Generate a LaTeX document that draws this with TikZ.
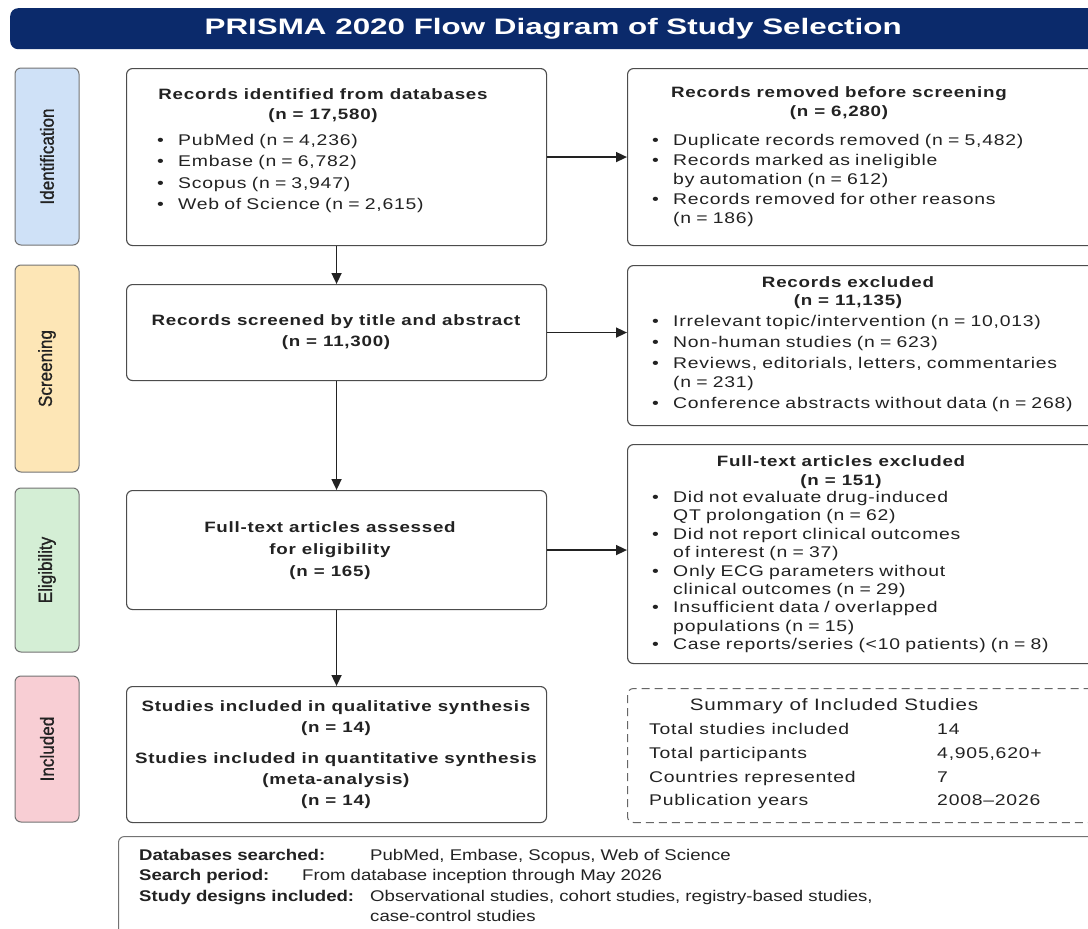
\documentclass[tikz,border=0pt]{standalone}
\usepackage{fontspec}
\setmainfont{Liberation Sans}[FakeStretch=1.25,LetterSpace=5]
\newfontfamily\titlef{Liberation Sans}[FakeStretch=1.4]
\newfontfamily\notef{Liberation Sans}[FakeStretch=1.2]
\newfontfamily\sidef{Liberation Sans}[FakeStretch=0.9,FakeBold=1]
\usetikzlibrary{arrows.meta}
\definecolor{navy}{HTML}{0B2A6B}
\definecolor{idblue}{HTML}{CFE1F7}
\definecolor{scryel}{HTML}{FDE6B6}
\definecolor{eliggrn}{HTML}{D4EED5}
\definecolor{inclpink}{HTML}{F8CED4}
\definecolor{ink}{HTML}{222222}
\newcommand{\bitem}[1]{\hangindent=24pt\hangafter=1\noindent\hbox to 24pt{\hskip3pt\textbullet\hss}#1\par}
\tikzset{
  sidebox/.style={draw=black!55, line width=1pt, rounded corners=6pt, rotate=90,
     text=ink, font=\sidef\fontsize{19}{21}\selectfont, inner sep=0pt},
  flowbox/.style={draw=black!70, line width=1.1pt, rounded corners=6pt, fill=white,
     anchor=north west, inner sep=0pt},
  txt/.style={inner sep=0pt, text=ink},
  hd/.style={txt, anchor=north, align=center},
  lst/.style={txt, anchor=north west, text width=440pt, align=left},
  arr/.style={-{Triangle[length=11pt,width=10pt]}, line width=1.6pt, draw=ink}
}
\begin{document}
\begin{tikzpicture}[x=1pt,y=-1pt]
\useasboundingbox[fill=white] (0,0) rectangle (1088,929);
\clip (0,0) rectangle (1088,929);

% title
\node[fill=navy, rounded corners=8pt, minimum width=1086pt, minimum height=41pt,
      anchor=north west, inner sep=0pt, text=white,
      font=\titlef\bfseries\fontsize{22.4}{26}\selectfont] (title) at (10,8)
      {PRISMA 2020 Flow Diagram of Study Selection};

% side labels
\node[sidebox, fill=idblue, minimum width=177pt, minimum height=64pt] (s1) at (47,156.5) {Identification};
\node[sidebox, fill=scryel, minimum width=207pt, minimum height=64pt] (s2) at (47,368.5) {Screening};
\node[sidebox, fill=eliggrn, minimum width=164pt, minimum height=64pt] (s3) at (47,570) {Eligibility};
\node[sidebox, fill=inclpink, minimum width=146pt, minimum height=64pt] (s4) at (47,749) {Included};

% left boxes
\node[flowbox, minimum width=420pt, minimum height=177pt] (b1) at (126,68) {};
\node[flowbox, minimum width=420pt, minimum height=96pt] (b2) at (126,284) {};
\node[flowbox, minimum width=420pt, minimum height=119pt] (b3) at (126,490) {};
\node[flowbox, minimum width=420pt, minimum height=136pt] (b4) at (126,686) {};

% right boxes
\node[flowbox, minimum width=470pt, minimum height=177pt] (r1) at (627,68) {};
\node[flowbox, minimum width=470pt, minimum height=160pt] (r2) at (627,265) {};
\node[flowbox, minimum width=470pt, minimum height=219pt] (r3) at (627,444) {};
\node[flowbox, dash pattern=on 8pt off 5pt, draw=black!60, line width=1pt,
      minimum width=470pt, minimum height=134pt] (sum) at (627,688) {};

% bottom note box
\node[flowbox, draw=black!55, line width=1pt, minimum width=990pt, minimum height=110pt] (note) at (118,836) {};

% box 1 text
\node[hd, font=\bfseries\fontsize{15}{20}\selectfont] (b1h) at (323,88)
  {Records identified from databases\\(n = 17,580)};
\node[lst, font=\fontsize{15.5}{21.3}\selectfont] (b1l) at (154,134)
  {\bitem{PubMed (n = 4,236)}\bitem{Embase (n = 6,782)}\bitem{Scopus (n = 3,947)}\bitem{Web of Science (n = 2,615)}};

% box 2..4 text
\node[hd, font=\bfseries\fontsize{15}{21}\selectfont] (b2t) at (336,314)
  {Records screened by title and abstract\\(n = 11,300)};
\node[hd, font=\bfseries\fontsize{15}{22}\selectfont] (b3t) at (330,521)
  {Full-text articles assessed\\for eligibility\\(n = 165)};
\node[hd, font=\bfseries\fontsize{15}{21}\selectfont] (b4t) at (336,700)
  {Studies included in qualitative synthesis\\(n = 14)\\[10pt]Studies included in quantitative synthesis\\(meta-analysis)\\(n = 14)};

% right box 1
\node[hd, font=\bfseries\fontsize{15}{19}\selectfont] (r1h) at (839,86)
  {Records removed before screening\\(n = 6,280)};
\node[lst, font=\fontsize{15.5}{19}\selectfont\setlength{\parskip}{1pt}] (r1l) at (649,134)
  {\bitem{Duplicate records removed (n = 5,482)}\bitem{Records marked as ineligible\newline by automation (n = 612)}\bitem{Records removed for other reasons\newline (n = 186)}};

% right box 2
\node[hd, font=\bfseries\fontsize{15}{18}\selectfont] (r2h) at (848,276)
  {Records excluded\\(n = 11,135)};
\node[lst, font=\fontsize{15.5}{19}\selectfont\setlength{\parskip}{2pt}] (r2l) at (649,315)
  {\bitem{Irrelevant topic/intervention (n = 10,013)}\bitem{Non-human studies (n = 623)}\bitem{Reviews, editorials, letters, commentaries\newline (n = 231)}\bitem{Conference abstracts without data (n = 268)}};

% right box 3
\node[hd, font=\bfseries\fontsize{15}{19}\selectfont] (r3h) at (841,455)
  {Full-text articles excluded\\(n = 151)};
\node[lst, font=\fontsize{15.5}{18.4}\selectfont\setlength{\parskip}{0pt}] (r3l) at (649,491)
  {\bitem{Did not evaluate drug-induced\newline QT prolongation (n = 62)}\bitem{Did not report clinical outcomes\newline of interest (n = 37)}\bitem{Only ECG parameters without\newline clinical outcomes (n = 29)}\bitem{Insufficient data / overlapped\newline populations (n = 15)}\bitem{Case reports/series (<10 patients) (n = 8)}};

% summary
\node[hd, font=\fontsize{16.5}{18}\selectfont] (sumh) at (834,698) {Summary of Included Studies};
\node[txt, anchor=north west, font=\fontsize{15.5}{23.7}\selectfont] (sumt) at (649,718)
  {\begin{tabular}{@{}p{288pt}@{}l@{}}
   Total studies included & 14\\
   Total participants & 4,905,620+\\
   Countries represented & 7\\
   Publication years & 2008--2026
   \end{tabular}};

% note text
\node[txt, anchor=north west, font=\notef\fontsize{15.5}{20.3}\selectfont] (notet) at (139,846)
  {\begin{tabular}{@{}l@{}}
   \makebox[231pt][l]{\bfseries Databases searched:}PubMed, Embase, Scopus, Web of Science\\
   \makebox[163pt][l]{\bfseries Search period:}From database inception through May 2026\\
   \makebox[231pt][l]{\bfseries Study designs included:}Observational studies, cohort studies, registry-based studies,\\
   \hspace*{231pt}case-control studies
   \end{tabular}};

% arrows
\draw[arr] (b1) -- (b2);
\draw[arr] (b2) -- (b3);
\draw[arr] (b3) -- (b4);
\draw[arr] (b1) -- (r1);
\draw[arr] (b2.east) -- (b2.east -| r2.west);
\draw[arr] (b3.east) -- (b3.east -| r3.west);
\end{tikzpicture}
\end{document}
